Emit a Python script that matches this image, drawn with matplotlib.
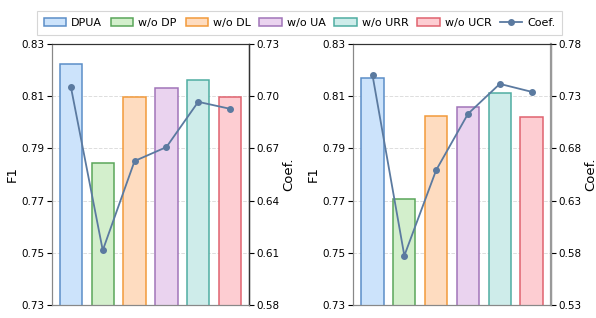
import matplotlib
matplotlib.use("Agg")
import matplotlib.pyplot as plt
import numpy as np

# data
methods = ["DPUA", "w/o DP", "w/o DL", "w/o UA", "w/o URR", "w/o UCR"]
f1_left = [0.8222, 0.7844, 0.8097, 0.8131, 0.8162, 0.8097]
coef_left = [0.7051, 0.6114, 0.6627, 0.6707, 0.6967, 0.6927]
f1_right = [0.8171, 0.7704, 0.8022, 0.8058, 0.8111, 0.8019]
coef_right = [0.750, 0.5772, 0.6591, 0.713, 0.7417, 0.7341]

face_colors = ["#cce3fb", "#d3efcc", "#fedcc0", "#ead3ef", "#ceecea", "#fdcdd2"]
edge_colors = ["#5b8ec8", "#5aa65a", "#f29a3a", "#a175b9", "#4fada2", "#e0636f"]
line_color = "#5b7aa0"

fig = plt.figure(figsize=(5.96, 3.18), dpi=100)

panels = [
    (f1_left, coef_left, (0.58, 0.73), [0.087, 0.041, 0.331, 0.821]),
    (f1_right, coef_right, (0.53, 0.78), [0.593, 0.041, 0.331, 0.821]),
]

x = np.arange(len(methods))
bars = None
for i, (f1, coef, clim, rect) in enumerate(panels):
    ax = fig.add_axes(rect)
    bars = ax.bar(x, f1, width=0.7, color=face_colors, edgecolor=edge_colors,
                  linewidth=1.1)
    ax.set_ylim(0.73, 0.83)
    ax.set_yticks(np.linspace(0.73, 0.83, 6))
    ax.set_yticklabels([f"{v:.2f}" for v in np.linspace(0.73, 0.83, 6)])
    ax.set_xticks([])
    ax.set_xlim(-0.6, 5.6)
    ax.set_ylabel("F1", fontsize=9.5, labelpad=2)
    ax.tick_params(axis="y", labelsize=7.5, length=3.5, pad=2)
    ax.yaxis.grid(True, linestyle="--", color="#dddddd", linewidth=0.7)
    ax.set_axisbelow(True)
    ax.spines["left"].set_color("#888888")
    ax.spines["bottom"].set_color("#888888")
    ax.spines["top"].set_color("#333333")

    ax2 = ax.twinx()
    line, = ax2.plot(x, coef, color=line_color, marker="o", markersize=4,
                     linewidth=1.3, label="Coef.")
    ax2.set_ylim(*clim)
    ticks = np.linspace(clim[0], clim[1], 6)
    ax2.set_yticks(ticks)
    ax2.set_yticklabels([f"{v:.2f}" for v in ticks])
    ax2.set_ylabel("Coef.", fontsize=9.5, labelpad=2)
    ax2.tick_params(axis="y", labelsize=7.5, length=3.5, pad=2)
    ax2.spines["right"].set_color("#333333" if i == 0 else "#999999")
    ax2.spines["right"].set_linewidth(1.0 if i == 0 else 1.6)
    ax2.spines["left"].set_color("#888888")
    ax2.spines["bottom"].set_color("#888888")
    ax2.spines["top"].set_color("#333333")

handles = list(bars) + [line]
labels = methods + ["Coef."]
leg = fig.legend(handles, labels, loc="upper center", bbox_to_anchor=(0.503, 0.982),
                 ncol=7, fontsize=8, frameon=True, fancybox=False,
                 handlelength=2.0, handletextpad=0.45, columnspacing=0.8,
                 borderpad=0.6)
leg.get_frame().set_edgecolor("#cccccc")
leg.get_frame().set_linewidth(0.8)

fig.savefig("out.png", dpi=100)
